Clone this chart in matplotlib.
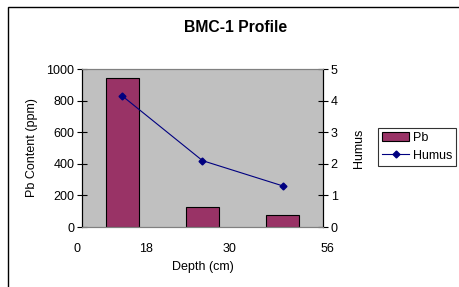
import matplotlib.pyplot as plt
import matplotlib.patches as mpatches
from matplotlib.lines import Line2D
import numpy as np

plt.rcParams["font.family"] = ["Liberation Sans", "DejaVu Sans"]

# data
pb = [940, 125, 75]
humus = [4.15, 2.1, 1.3]
depth_labels = ["0", "18", "30", "56"]
depth_pos = [-0.06, 0.8, 1.84, 3.06]   # where the labels sit along the category axis

COLOR_PB = "#993366"
COLOR_HUMUS = "#000080"
FS = 9

fig = plt.figure(figsize=(4.6, 2.87), dpi=100)
W, H = 460, 287
ax = fig.add_axes([82 / W, 1 - 227 / H, (323 - 82) / W, (227 - 69) / H])
ax2 = ax.twinx()

x = np.arange(len(pb)) + 0.5
ax.bar(x, pb, width=0.41, color=COLOR_PB, edgecolor="black", linewidth=0.8, zorder=2)
ax2.plot(x, humus, "-D", color=COLOR_HUMUS, markersize=3.5, linewidth=0.8)

ax.set_facecolor("#C0C0C0")
ax.set_xlim(0, 3)
ax.set_ylim(0, 1000)
ax2.set_ylim(0, 5)
ax.set_yticks(range(0, 1001, 200))
ax2.set_yticks(range(0, 6))
ax.set_xticks([])

for a in (ax, ax2):
    a.tick_params(axis="y", direction="inout", length=7, width=0.8, labelsize=FS, pad=2)
    for s in ("top", "bottom"):
        a.spines[s].set_color("#808080")
        a.spines[s].set_linewidth(0.8)
    for s in ("left", "right"):
        a.spines[s].set_color("black")
        a.spines[s].set_linewidth(0.8)

for lab, p in zip(depth_labels, depth_pos):
    ax.text(p, -0.14, lab, transform=ax.get_xaxis_transform(), ha="center", va="center", fontsize=FS)

ax.set_ylabel("Pb Content (ppm)", fontsize=FS, labelpad=6)
ax2.set_ylabel("Humus", fontsize=FS, labelpad=11)
ax.text(1.5, -0.255, "Depth (cm)", transform=ax.get_xaxis_transform(), ha="center", va="center", fontsize=FS)

fig.text(236 / W, 1 - 28 / H, "BMC-1 Profile", ha="center", va="center", fontsize=11.3, fontweight="bold")

# outer chart border
fig.patches.append(mpatches.Rectangle((8 / W, -0.1), 1.2, 1 - 7 / H + 0.1, transform=fig.transFigure,
                                      fill=False, edgecolor="black", linewidth=1.0))

handles = [mpatches.Patch(facecolor=COLOR_PB, edgecolor="black", linewidth=0.8, label="Pb"),
           Line2D([], [], color=COLOR_HUMUS, marker="D", markersize=3.5, linewidth=0.8, label="Humus")]
leg = fig.legend(handles=handles, loc="center", bbox_to_anchor=(417 / W, 1 - 147 / H), fontsize=FS,
                 frameon=True, fancybox=False, edgecolor="black", borderpad=0.3, handlelength=2.2,
                 handletextpad=0.25, labelspacing=0.45, borderaxespad=0)
leg.get_frame().set_linewidth(0.8)

fig.savefig("out.png", dpi=100)
